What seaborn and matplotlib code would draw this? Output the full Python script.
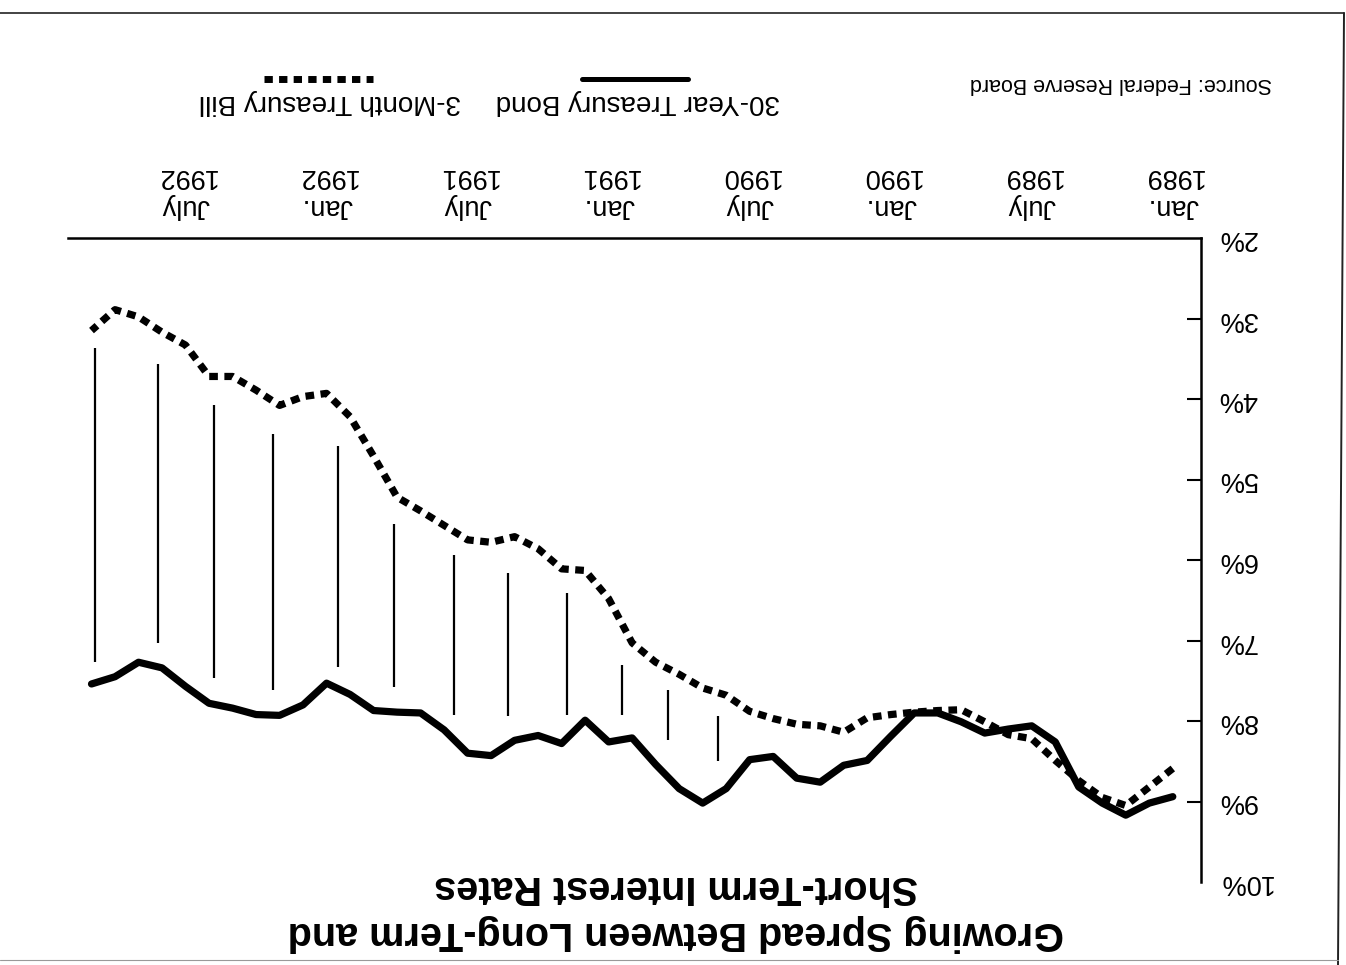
import matplotlib
matplotlib.use("Agg")
import matplotlib.pyplot as plt
from matplotlib.lines import Line2D
import pandas as pd
import seaborn as sns

# Monthly observations, Jan. 1989 (0) through Nov. 1992 (46)
month_index = list(range(47))

bond_30yr = [8.94, 9.02, 9.17, 9.02, 8.82, 8.26, 8.06, 8.10, 8.15, 8.01, 7.90, 7.90,
             8.19, 8.49, 8.55, 8.76, 8.71, 8.44, 8.48, 8.84, 9.02, 8.84, 8.54, 8.21,
             8.26, 7.99, 8.28, 8.18, 8.24, 8.43, 8.40, 8.11, 7.90, 7.89, 7.87, 7.67,
             7.53, 7.80, 7.93, 7.92, 7.84, 7.78, 7.57, 7.34, 7.27, 7.45, 7.54]

bill_3mo = [8.59, 8.82, 9.05, 8.95, 8.74, 8.49, 8.22, 8.17, 8.01, 7.86, 7.87, 7.89,
            7.92, 7.96, 8.14, 8.06, 8.04, 7.97, 7.88, 7.68, 7.59, 7.42, 7.27, 7.03,
            6.48, 6.13, 6.11, 5.86, 5.71, 5.78, 5.75, 5.57, 5.39, 5.22, 4.71, 4.22,
            3.93, 3.97, 4.08, 3.89, 3.72, 3.72, 3.33, 3.17, 2.98, 2.89, 3.15]

# Spread markers drawn between the two curves
spread_months = [45.87, 43.15, 40.77, 38.26, 35.53, 33.15, 30.6, 28.3, 25.79, 23.45, 21.49, 19.36]
spread_top = [3.37, 3.56, 4.08, 4.43, 4.59, 5.55, 5.94, 6.16, 6.41, 7.31, 7.61, 7.94]
spread_bottom = [7.27, 7.03, 7.47, 7.62, 7.33, 7.58, 7.93, 7.94, 7.93, 7.93, 8.23, 8.50]

tick_months = [0, 6, 12, 18, 24, 30, 36, 42]
tick_labels = ["Jan.\n1989", "July\n1989", "Jan.\n1990", "July\n1990",
               "Jan.\n1991", "July\n1991", "Jan.\n1992", "July\n1992"]
y_ticks = [2, 3, 4, 5, 6, 7, 8, 9, 10]
y_tick_labels = ["2%", "3%", "4%", "5%", "6%", "7%", "8%", "9%", "10%"]

title_text = "Growing Spread Between Long-Term and\nShort-Term Interest Rates"
bond_label = "30-Year Treasury Bond"
bill_label = "3-Month Treasury Bill"
source_text = "Source: Federal Reserve Board"

sns.set_theme(style="white")
plt.rcParams["font.family"] = ["Liberation Sans", "DejaVu Sans"]

W, H = 1346, 965
fig = plt.figure(figsize=(W / 100, H / 100), dpi=100)
fig.patch.set_facecolor("white")

# The whole page is printed upside down
ax = fig.add_axes([68 / W, 1 - 882 / H, (1201 - 68) / W, (882 - 238) / H])
ax.set_facecolor("white")

df = pd.DataFrame({"month": month_index, "bond": bond_30yr, "bill": bill_3mo})

dots = (0, (1.2, 0.9))
sns.lineplot(data=df, x="month", y="bond", ax=ax, color="black", lw=5.2)
sns.lineplot(data=df, x="month", y="bill", ax=ax, color="black", lw=5.2)
ax.lines[-1].set_linestyle(dots)
ax.lines[-1].set_dash_capstyle("butt")

ax.vlines(spread_months, spread_top, spread_bottom, color="black", lw=1.6)

ax.set_xlim(47.0, -1.2)
ax.set_ylim(10, 2)
ax.set_xlabel("")
ax.set_ylabel("")

for side in ("left", "bottom"):
    ax.spines[side].set_visible(False)
for side in ("top", "right"):
    ax.spines[side].set_visible(True)
    ax.spines[side].set_color("black")
    ax.spines[side].set_linewidth(1.8)

ax.xaxis.tick_top()
ax.yaxis.tick_right()
ax.set_xticks(tick_months)
ax.set_xticklabels(tick_labels, rotation=180)
ax.set_yticks(y_ticks)
ax.set_yticklabels(y_tick_labels, rotation=180, va="center")
ax.tick_params(axis="x", length=0, pad=14, labelsize=19.5, colors="black")
ax.tick_params(axis="y", direction="in", length=10, width=1.5, pad=12,
               labelsize=19.5, colors="black")
# No tick marks at the two ends of the value axis
yticks = ax.yaxis.get_major_ticks()
for t in (yticks[0], yticks[-1]):
    t.tick1line.set_visible(False)
    t.tick2line.set_visible(False)
ax.grid(False)

# Title
fig.text(676 / W, 1 - 910 / H, title_text, rotation=180, ha="center", va="center",
         fontsize=28.5, fontweight="bold", linespacing=1.25, color="black")

# Legend
fig.text(638 / W, 1 - 102 / H, bond_label, rotation=180, ha="center", va="center",
         fontsize=20, color="black")
fig.text(330 / W, 1 - 102 / H, bill_label, rotation=180, ha="center", va="center",
         fontsize=20, color="black")
fig.add_artist(Line2D([582 / W, 688 / W], [1 - 79 / H, 1 - 79 / H],
                      transform=fig.transFigure, color="black", lw=3.6))
fig.add_artist(Line2D([264 / W, 373 / W], [1 - 79 / H, 1 - 79 / H],
                      transform=fig.transFigure, color="black", lw=5.0,
                      linestyle=dots, dash_capstyle="butt"))

# Source note
fig.text(1272 / W, 1 - 84 / H, source_text, rotation=180, ha="right", va="center",
         fontsize=15.5, color="black")

# Page border
fig.add_artist(Line2D([0, 1344 / W], [1 - 13 / H, 1 - 13 / H],
                      transform=fig.transFigure, color="#222222", lw=1.2))
fig.add_artist(Line2D([1344 / W, 1338 / W], [1 - 13 / H, 0],
                      transform=fig.transFigure, color="#222222", lw=1.4))
fig.add_artist(Line2D([0, 1338 / W], [1 - 960 / H, 1 - 960 / H],
                      transform=fig.transFigure, color="#999999", lw=0.8))

fig.savefig("out.png", dpi=100, facecolor="white")
